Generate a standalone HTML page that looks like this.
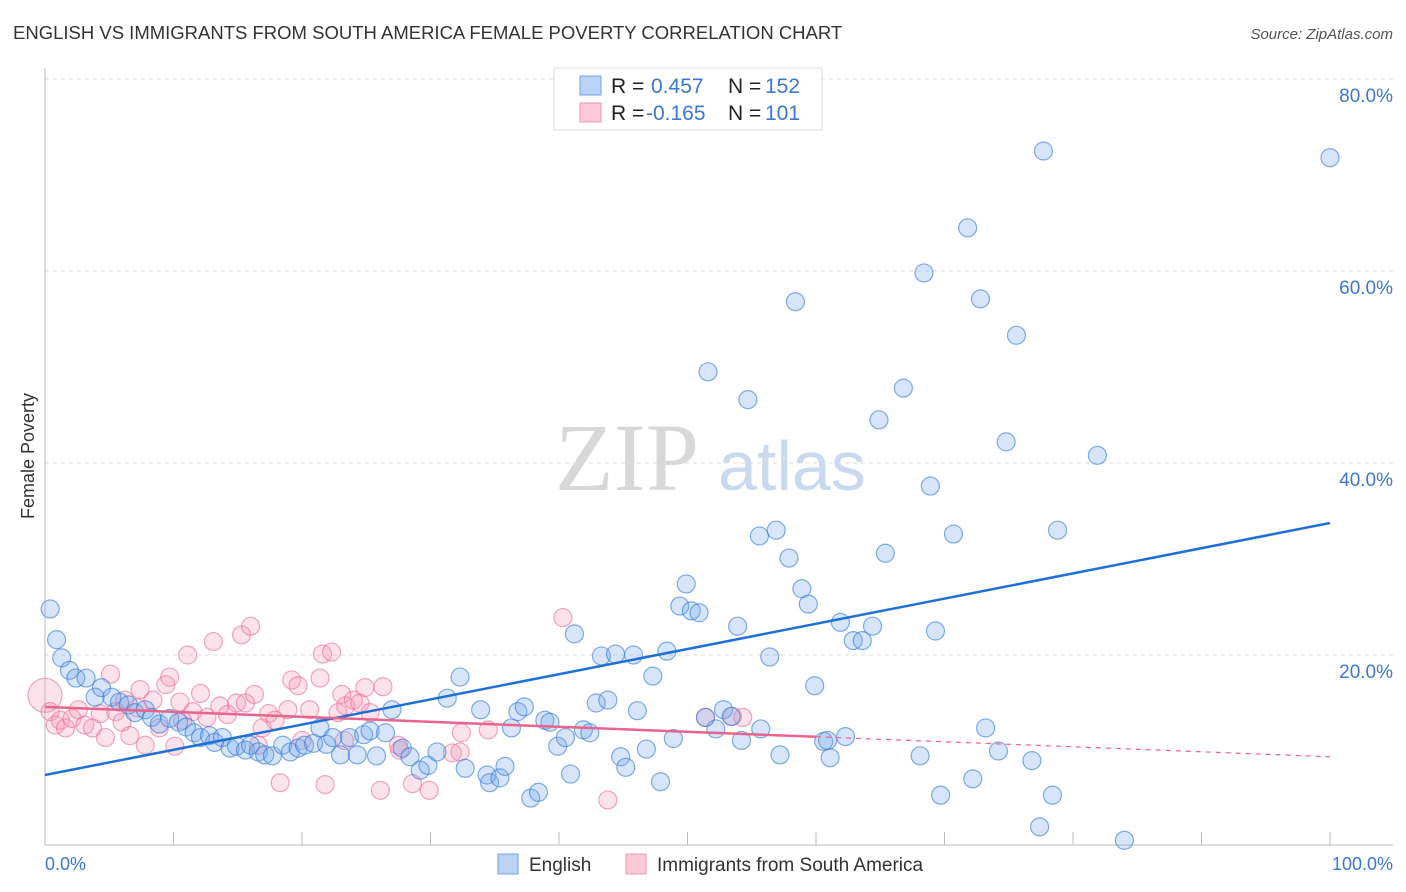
<!DOCTYPE html>
<html><head><meta charset="utf-8"><style>
body{margin:0;background:#fff;font-family:"Liberation Sans",sans-serif;}
svg{display:block}
</style></head><body>
<svg width="1406" height="892" viewBox="0 0 1406 892" xmlns="http://www.w3.org/2000/svg">
<text x="13" y="39" font-size="18.5" fill="#333">ENGLISH VS IMMIGRANTS FROM SOUTH AMERICA FEMALE POVERTY CORRELATION CHART</text>
<text x="1393" y="39" font-size="15" fill="#555" font-style="italic" text-anchor="end">Source: ZipAtlas.com</text>
<text x="0" y="0" font-size="18" fill="#333" text-anchor="middle" transform="translate(34,456) rotate(-90)">Female Poverty</text>
<text x="555" y="490" font-size="96" font-family="Liberation Serif,serif" fill="#d8d8d8">ZIP</text>
<text x="718" y="490" font-size="70" fill="#c9daf0">atlas</text>
<g id="grid"></g>
<g id="axes"></g>
<g id="pink"></g>
<g id="blue"></g>
<g id="lines"></g>
<g>
<rect x="554" y="68" width="268" height="62" fill="#fff" stroke="#ddd"/>
<rect x="580" y="76" width="21" height="19" fill="#b9d3f5" stroke="#6fa3e6"/>
<rect x="580" y="103" width="21" height="19" fill="#fbc9d8" stroke="#ef94b0"/>
<text x="611" y="93" font-size="21" fill="#222">R = </text><text x="651" y="93" font-size="21" fill="#3a78d4">0.457</text>
<text x="728" y="93" font-size="21" fill="#222">N = </text><text x="765" y="93" font-size="21" fill="#3a78d4">152</text>
<text x="611" y="120" font-size="21" fill="#222">R = </text><text x="646" y="120" font-size="21" fill="#3a78d4">-0.165</text>
<text x="728" y="120" font-size="21" fill="#222">N = </text><text x="765" y="120" font-size="21" fill="#3a78d4">101</text>
</g>
<g>
<rect x="498" y="854" width="20" height="20" fill="#b9d3f5" stroke="#6fa3e6"/>
<text x="529" y="871" font-size="19" fill="#333">English</text>
<rect x="626" y="854" width="20" height="20" fill="#fbc9d8" stroke="#ef94b0"/>
<text x="657" y="871" font-size="19" fill="#333">Immigrants from South America</text>
</g>
<text x="45" y="870" font-size="18" fill="#3a78d4">0.0%</text>
<text x="1393" y="870" font-size="18" fill="#3a78d4" text-anchor="end">100.0%</text>
</svg>
<script>
const yTicks=[20,40,60,80];
const yTickLabels=["20.0%","40.0%","60.0%","80.0%"];
const xTicks=[0,10,20,30,40,50,60,70,80,90,100];
const blueX=[0.4,0.9,1.3,1.9,2.4,3.2,3.9,4.4,5.2,5.8,6.5,7.0,7.8,8.3,8.9,9.7,10.4,11.0,11.6,12.1,12.8,13.2,13.8,14.4,14.9,15.6,16.0,16.6,17.1,17.7,18.5,19.1,19.7,20.2,20.9,21.4,21.9,22.4,23.0,23.7,24.3,24.8,25.3,25.8,26.5,27.0,27.8,28.4,29.2,29.8,30.5,31.3,32.3,32.7,33.9,34.4,34.6,35.4,35.8,36.3,36.8,37.3,37.8,38.4,38.9,39.3,39.9,40.5,40.9,41.2,41.9,42.4,42.9,43.3,43.8,44.4,44.8,45.2,45.8,46.1,46.8,47.3,47.9,48.4,48.9,49.4,49.9,50.3,50.9,51.4,51.6,52.2,52.8,53.4,53.9,54.2,54.7,55.6,55.7,56.4,56.9,57.2,57.9,58.4,58.9,59.4,59.9,60.6,60.9,61.1,61.9,62.3,62.9,63.6,64.4,64.9,65.4,66.8,68.1,68.4,68.9,69.3,69.7,70.7,71.8,72.2,72.8,73.2,74.2,74.8,75.6,76.8,77.4,77.7,78.4,78.8,81.9,84.0,100];
const blueY=[24.8,21.6,19.7,18.4,17.6,17.6,15.6,16.6,15.6,15.1,14.8,14.0,14.3,13.5,12.8,13.4,13.0,12.5,11.9,11.4,11.6,10.9,11.4,10.3,10.5,10.1,10.6,9.9,9.6,9.5,10.6,9.9,10.3,10.6,10.8,12.4,10.7,11.4,9.6,11.4,9.6,11.7,12.1,9.5,11.9,14.3,10.3,9.4,8.0,8.5,9.9,15.5,17.7,8.2,14.3,7.5,6.7,7.2,8.4,12.4,14.1,14.6,5.1,5.7,13.2,13.0,10.5,11.4,7.6,22.2,12.2,11.9,15.0,19.9,15.3,20.1,9.4,8.3,20.0,14.2,10.2,17.8,6.8,20.4,11.3,25.1,27.4,24.6,24.4,13.5,49.5,12.3,14.3,13.6,23.0,11.1,46.6,32.4,12.3,19.8,33.0,9.6,30.1,56.8,26.9,25.3,16.8,11.0,11.1,9.3,23.4,11.5,21.5,21.5,23.0,44.5,30.6,47.8,9.5,59.8,37.6,22.5,5.4,32.6,64.5,7.1,57.1,12.4,10.0,42.2,53.3,9.0,2.1,72.5,5.4,33.0,40.8,0.7,71.8];
const pinkX=[0,0.4,0.8,1.2,1.6,2.1,2.6,3.1,3.7,4.3,4.7,5.1,5.5,6.0,6.6,7.2,7.8,8.4,8.9,9.4,9.7,10.1,10.5,11.1,11.5,12.1,12.6,13.1,13.6,14.2,14.9,15.3,15.6,16.0,16.3,16.9,17.4,17.9,18.3,18.9,19.2,19.7,20.0,20.6,21.4,21.6,21.8,22.3,22.8,23.1,23.4,24.0,24.5,24.9,25.3,26.1,26.3,27.5,28.6,29.9,31.7,32.3,34.5,40.3,43.8,51.4,53.5,54.3,32.4,7.4,6.2,10.7,16.6,23.3,27.6];
const pinkY=[15.8,14.1,12.7,13.2,12.4,13.4,14.3,12.7,12.4,13.9,11.4,18.0,14.1,13.0,11.6,14.5,10.6,15.3,12.4,16.9,17.7,10.5,15.1,20.0,14.1,16.0,13.5,21.4,14.7,13.8,15.0,22.1,15.0,23.0,15.9,12.4,13.9,13.2,6.7,14.3,17.4,16.8,11.1,14.3,17.6,20.1,6.5,20.3,14.0,15.9,14.7,15.3,15.0,16.6,14.0,5.9,16.7,10.6,6.6,5.9,9.8,9.9,12.2,23.9,4.9,13.5,13.6,13.5,11.9,16.4,15.3,13.2,10.6,11.1,10.1];
const blueTrend=[7.5,33.75];
const pinkTrend=[14.6,9.4];
const pinkSolidEnd=60;

const NS="http://www.w3.org/2000/svg";
const X0=45,X1=1330,Y0=847,PPY=9.6;
const sx=v=>X0+(X1-X0)*v/100;
const sy=v=>Y0-v*PPY;
function mk(tag,attrs,parent){const e=document.createElementNS(NS,tag);for(const k in attrs)e.setAttribute(k,attrs[k]);document.getElementById(parent).appendChild(e);return e;}
yTicks.forEach((t,i)=>{
 const g=mk('line',{x1:45,x2:1393,y1:sy(t),y2:sy(t),stroke:'#ddd','stroke-dasharray':'4,4'},'grid');
 
 
 const l=mk('text',{x:1393,y:sy(t)+23,'font-size':19,fill:'#3a78d4','text-anchor':'end'},'grid');
 l.textContent=yTickLabels[i];
 
 
});
const ax=mk('line',{x1:45,x2:45,y1:68,y2:845,stroke:'#bbb'},'axes');


const bx=mk('line',{x1:45,x2:1393,y1:845,y2:845,stroke:'#bbb'},'axes');


xTicks.forEach(t=>{
 const k=mk('line',{x1:sx(t),x2:sx(t),y1:832,y2:845,stroke:'#bbb'},'axes');
 
 
});
pinkX.forEach((x,i)=>{
 const c=mk('circle',{cx:sx(x),cy:sy(pinkY[i]),r:i===0?17:9,fill:'rgba(244,150,180,0.28)',stroke:'rgba(232,110,150,0.6)','stroke-width':1.2},'pink');
 
 
});
blueX.forEach((x,i)=>{
 const c=mk('circle',{cx:sx(x),cy:sy(blueY[i]),r:9,fill:'rgba(120,170,235,0.3)',stroke:'rgba(50,120,215,0.6)','stroke-width':1.2},'blue');
 
 
});
const bl=mk('line',{x1:sx(0),y1:sy(blueTrend[0]),x2:sx(100),y2:sy(blueTrend[1]),stroke:'#1f6fd6','stroke-width':2.5},'lines');


const pm=pinkTrend[0]+(pinkTrend[1]-pinkTrend[0])*pinkSolidEnd/100;
const pl=mk('line',{x1:sx(0),y1:sy(pinkTrend[0]),x2:sx(pinkSolidEnd),y2:sy(pm),stroke:'#e8648c','stroke-width':2.5},'lines');


const pd=mk('line',{x1:sx(pinkSolidEnd),y1:sy(pm),x2:sx(100),y2:sy(pinkTrend[1]),stroke:'#e8648c','stroke-width':1.2,'stroke-dasharray':'5,5'},'lines');


</script>
</body></html>
